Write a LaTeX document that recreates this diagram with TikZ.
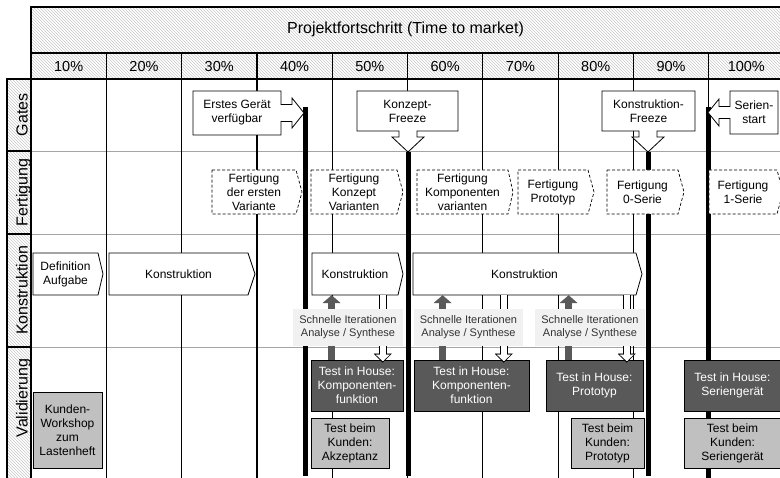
\documentclass[tikz,border=0pt]{standalone}
\usepackage{fontspec}
\setmainfont{Liberation Sans}
\usepackage{xcolor}
\usepackage{tikz}
\usetikzlibrary{arrows.meta,patterns}

\definecolor{darkgrey}{RGB}{89,89,89}
\definecolor{lightgrey}{RGB}{192,192,192}
\definecolor{notegrey}{RGB}{241,241,241}
\definecolor{rowgrey}{RGB}{165,165,165}
\definecolor{hatchgrey}{RGB}{200,200,200}

\begin{document}
\begin{tikzpicture}[x=1pt, y=-1pt,
    hatch/.style={pattern=north west lines, pattern color=hatchgrey},
    frame/.style={draw=black, line width=1.3pt},
    colline/.style={black, line width=1.2pt},
    milestone/.style={black, line width=5pt},
    rowline/.style={rowgrey, line width=0.9pt},
    gatebox/.style={draw=black, fill=white, line width=0.8pt},
    fertbox/.style={draw=black, fill=white, line width=0.7pt, dash pattern=on 3pt off 2pt},
    konbox/.style={draw=black, fill=white, line width=0.8pt},
    boxtext/.style={align=center, inner sep=0pt, font=\fontsize{12}{14}\selectfont},
    tihbox/.style={boxtext, draw=black, fill=darkgrey, text=white, line width=0.8pt},
    tbkbox/.style={boxtext, draw=black, fill=lightgrey, line width=0.8pt},
    iternote/.style={fill=notegrey, text=black!80, align=center, inner sep=0pt, minimum height=37, font=\fontsize{11}{13}\selectfont},
    rowlabel/.style={rotate=90, anchor=base, inner sep=0pt, font=\fontsize{16}{19}\selectfont},
    pctlabel/.style={anchor=base, inner sep=0pt, font=\fontsize{14.5}{17}\selectfont},
    darkarrow/.style={darkgrey, line width=7pt, -{Triangle[width=18pt, length=8pt, line width=0.4pt]}},
    openarrow/.style={black, line width=8pt, shorten >=-3pt, -{Triangle[width=18pt, length=9pt, line width=0.4pt]}},
    openfill/.style={white, line width=6pt, shorten >=-1.6pt, -{Triangle[width=14pt, length=6.6pt, line width=0.4pt]}},
]
\useasboundingbox (0,0) rectangle (780,478);
\clip (0,0) rectangle (780,478);

% header
\path[hatch] (31,7) rectangle (790,79);
\draw[frame] (790,7) -- (31,7) -- (31,79) -- (790,79);
\draw[frame] (31,53) -- (790,53);
\node[anchor=base, inner sep=0pt, font=\fontsize{16}{19}\selectfont] (title) at (405.5,34) {Projektfortschritt (Time to market)};

% row labels
\foreach \ya/\yb/\lab/\yc [count=\i] in {79/151/Gates/115, 151/234/Fertigung/192.5, 234/347/Konstruktion/290.5, 347/490/Validierung/398} {
    \path[hatch] (7,\ya) rectangle (31,\yb);
    \draw[frame] (7,\ya) rectangle (31,\yb);
    \node[rowlabel] (row\i) at (27.5,\yc) {\lab};
}
\foreach \y in {151,234,347}
    \draw[rowline] (31,\y) -- (790,\y);

% columns
\foreach \i in {0,...,10}
    \draw[colline] ({31+75.3*\i},53) -- ({31+75.3*\i},480);
\foreach \p [count=\i] in {10,20,...,100}
    \node[pctlabel] (pct\p) at ({31+75.3*(\i-0.5)},72) {\p\%};

% milestones
\draw[milestone] (305.5,107) -- (305.5,476);
\draw[milestone] (408,152) -- (408,476);
\draw[milestone] (648,152) -- (648,476);
\draw[milestone] (708,107) -- (708,480);

% gates
\draw[gatebox] (193,91) -- (281,91) -- (281,104.5) -- (292,104.5) -- (292,98) -- (304,113) -- (292,128) -- (292,121.5) -- (281,121.5) -- (281,135) -- (193,135) -- cycle;
\node[boxtext] (gate1) at (237,113) {Erstes Gerät\\verfügbar};
\draw[gatebox] (357,91) -- (458,91) -- (458,131) -- (417,131) -- (417,137) -- (424,137) -- (408,152) -- (392,137) -- (399,137) -- (399,131) -- (357,131) -- cycle;
\node[boxtext] (gate2) at (407.5,111) {Konzept-\\Freeze};
\draw[gatebox] (602,91) -- (695,91) -- (695,131) -- (657,131) -- (657,137) -- (664,137) -- (648,152) -- (632,137) -- (639,137) -- (639,131) -- (602,131) -- cycle;
\node[boxtext] (gate3) at (648.5,111) {Konstruktion-\\Freeze};
\draw[gatebox] (730,91) -- (778,91) -- (778,134) -- (730,134) -- (730,118.5) -- (719,118.5) -- (719,126) -- (708,112.5) -- (719,99) -- (719,106.5) -- (730,106.5) -- cycle;
\node[boxtext] (gate4) at (754,112.5) {Serien-\\start};

% Fertigung
\foreach \l/\r/\t/\txt [count=\i] in {212/296/302/{Fertigung\\der ersten\\Variante}, 311/397/403/{Fertigung\\Konzept\\Varianten}, 417/508/513/{Fertigung\\Komponenten\\varianten}, 518/588/594/{Fertigung\\Prototyp}, 607/678/684/{Fertigung\\0-Serie}, 709/777/783/{Fertigung\\1-Serie}} {
    \draw[fertbox] (\l,170) -- (\r,170) -- (\t,192) -- (\r,214) -- (\l,214) -- cycle;
    \node[boxtext, minimum width=\r-\l, minimum height=44] (fert\i) at ({(\l+\r)/2},192) {\txt};
}

% Konstruktion
\foreach \l/\r/\t/\txt [count=\i] in {33/98/103/{Definition\\Aufgabe}, 109/248/255/Konstruktion, 312/398/403/Konstruktion, 413/636/642/Konstruktion} {
    \draw[konbox] (\l,253) -- (\r,253) -- (\t,274) -- (\r,295) -- (\l,295) -- cycle;
    \node[boxtext, minimum width=\r-\l, minimum height=42] (kon\i) at ({(\l+\r)/2},274) {\txt};
}

% Validierung
\node[tbkbox, minimum width=69, minimum height=76] (kunde) at (67.5,430) {Kunden-\\Workshop\\zum\\Lastenheft};
\foreach \cx/\w/\txt [count=\i] in {357/92/{Test in House:\\Komponenten-\\funktion}, 471.5/115/{Test in House:\\Komponenten-\\funktion}, 594.5/97/{Test in House:\\Prototyp}, 732.5/97/{Test in House:\\Seriengerät}}
    \node[tihbox, minimum width=\w, minimum height=51] (tih\i) at (\cx,385.5) {\txt};
\foreach \cx/\w/\txt/\n in {350/78/{Test beim\\Kunden:\\Akzeptanz}/1, 607.5/73/{Test beim\\Kunden:\\Prototyp}/3, 732.5/97/{Test beim\\Kunden:\\Seriengerät}/4}
    \node[tbkbox, minimum width=\w, minimum height=50] (tbk\n) at (\cx,443) {\txt};

% iterations
\draw[darkarrow] ([xshift=21]tih1.north west) coordinate (up1) -- (up1 |- kon3.south);
\draw[darkarrow] ([xshift=29]tih2.north west) coordinate (up2) -- (up2 |- kon4.south);
\draw[darkarrow] ([xshift=23]tih3.north west) coordinate (up3) -- (up3 |- kon4.south);
\foreach \k/\dx/\t in {3/71/1, 4/91/2, 4/214/3} {
    \draw[openarrow] ([xshift=\dx]kon\k.south west) coordinate (dn\t) -- (dn\t |- tih\t.north);
    \draw[openfill] (dn\t) -- (dn\t |- tih\t.north);
}
\foreach \cx/\w [count=\i] in {348/110, 468.5/109, 590/110}
    \node[iternote, minimum width=\w] (iter\i) at (\cx,327.5) {Schnelle Iterationen\\Analyse / Synthese};
\end{tikzpicture}
\end{document}
